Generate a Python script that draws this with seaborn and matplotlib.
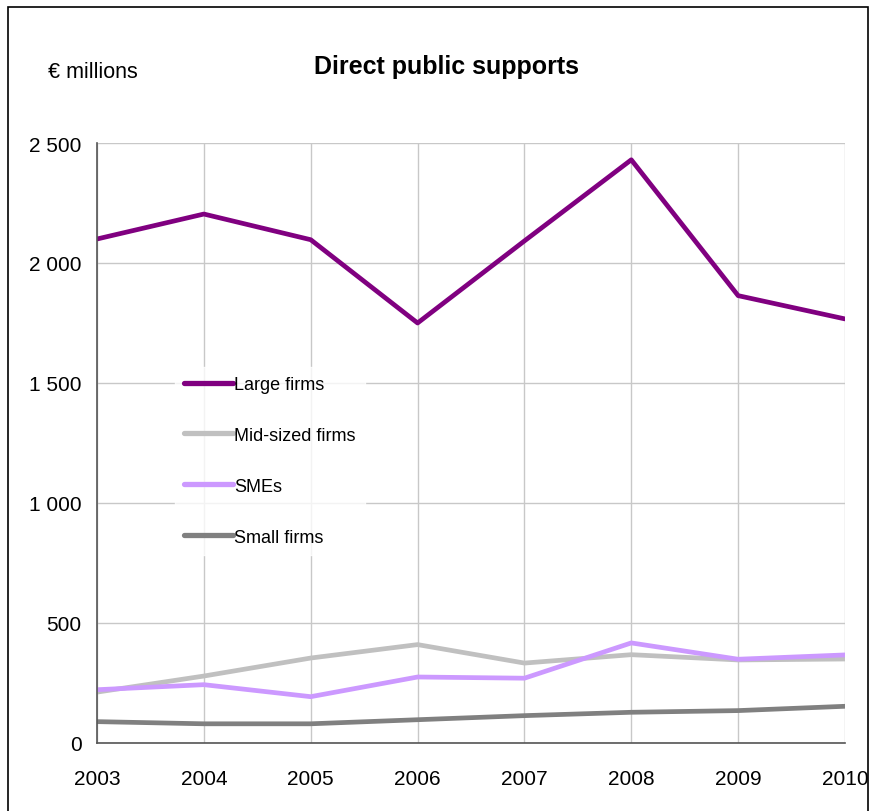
import matplotlib
matplotlib.use("Agg")
import matplotlib.pyplot as plt
import seaborn as sns
import pandas as pd
from matplotlib.patches import Rectangle

years = [2003, 2004, 2005, 2006, 2007, 2008, 2009, 2010]
large_firms = [2100, 2204, 2097, 1750, 2092, 2430, 1864, 1767]
mid_sized_firms = [212, 279, 354, 410, 333, 368, 346, 350]
smes = [222, 243, 193, 275, 270, 417, 349, 367]
small_firms = [89, 80, 80, 97, 114, 128, 135, 153]

series_names = ["Large firms", "Mid-sized firms", "SMEs", "Small firms"]
series_colors = ["#800080", "#C0C0C0", "#CC99FF", "#808080"]
y_ticks = [0, 500, 1000, 1500, 2000, 2500]
y_tick_labels = ["0", "500", "1 000", "1 500", "2 000", "2 500"]

rows = []
for name, vals in zip(series_names, [large_firms, mid_sized_firms, smes, small_firms]):
    for y, v in zip(years, vals):
        rows.append({"Year": y, "Value": v, "Series": name})
df = pd.DataFrame(rows)

sns.set_style("white")
plt.rcParams["font.family"] = ["Liberation Sans", "DejaVu Sans"]
plt.rcParams["text.color"] = "black"
plt.rcParams["xtick.color"] = "black"
plt.rcParams["ytick.color"] = "black"

fig = plt.figure(figsize=(8.71, 8.12), dpi=100)
ax = fig.add_axes([97/871, 1-744/812, (845-97)/871, 600/812])

sns.lineplot(data=df, x="Year", y="Value", hue="Series", hue_order=series_names,
             palette=dict(zip(series_names, series_colors)), linewidth=3.4, ax=ax,
             legend=True)

ax.set_xlim(2003, 2010)
ax.set_ylim(0, 2500)
ax.set_xticks(years)
ax.set_xticklabels([str(y) for y in years], fontsize=15)
ax.set_yticks(y_ticks)
ax.set_yticklabels(y_tick_labels, fontsize=15)
ax.tick_params(axis="both", length=0)
ax.tick_params(axis="x", pad=19)
ax.tick_params(axis="y", pad=11)
ax.set_xlabel("")
ax.set_ylabel("")
ax.grid(True, color="#C8C8C8", linewidth=1.0)
ax.set_axisbelow(True)
for s in ["top", "right"]:
    ax.spines[s].set_visible(False)
for s in ["left", "bottom"]:
    ax.spines[s].set_color("#555555")
    ax.spines[s].set_linewidth(1.2)

handles, labels = ax.get_legend_handles_labels()
leg = ax.legend(handles, labels, loc="upper left", bbox_to_anchor=(0.104, 0.627),
                frameon=True, fancybox=False, fontsize=13, handlelength=2.7,
                handletextpad=0.1, labelspacing=1.88, borderpad=0.5,
                borderaxespad=0.0)
leg.get_frame().set_facecolor("white")
leg.get_frame().set_edgecolor("white")
for h in leg.get_lines():
    h.set_linewidth(3.8)
    h.set_solid_capstyle("round")

fig.text(446/871, 1-67/812, "Direct public supports", ha="center", va="center",
         fontsize=18, fontweight="bold")
fig.text(48/871, 1-73/812, "€ millions", ha="left", va="center", fontsize=15.5)

fig.patches.append(Rectangle((8/871, -0.01), (868-8)/871, 1-8/812+0.01,
                             transform=fig.transFigure, fill=False,
                             edgecolor="black", linewidth=1.2))

fig.savefig("out.png", dpi=100)
